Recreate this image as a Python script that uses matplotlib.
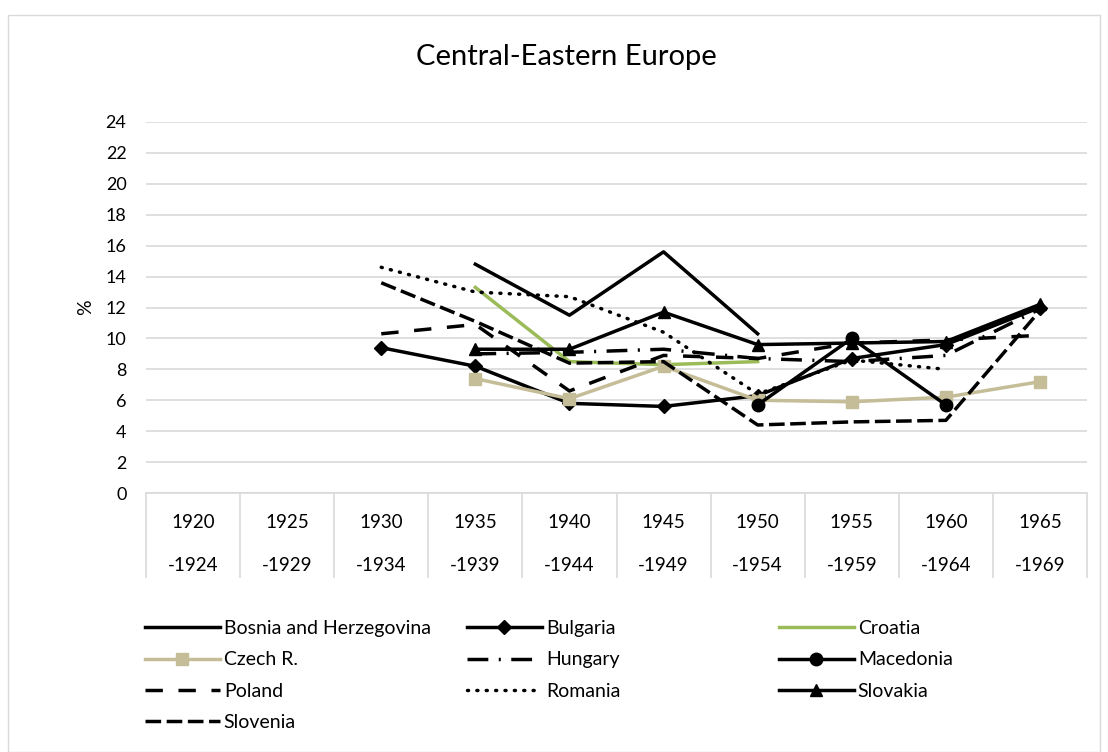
import numpy as np
import matplotlib
matplotlib.use("Agg")
import matplotlib.pyplot as plt
from matplotlib.patches import Rectangle

# categories (5-year periods)
period_start = ["1920", "1925", "1930", "1935", "1940", "1945", "1950", "1955", "1960", "1965"]
period_end = ["-1924", "-1929", "-1934", "-1939", "-1944", "-1949", "-1954", "-1959", "-1964", "-1969"]

nan = np.nan
# values in %, one list per country (nan = no value)
bosnia = [nan, nan, nan, 14.8, 11.5, 15.6, 10.3, nan, nan, nan]
bulgaria = [nan, nan, 9.4, 8.2, 5.8, 5.6, 6.3, 8.7, 9.6, 12.0]
croatia = [nan, nan, nan, 13.3, 8.5, 8.3, 8.5, nan, nan, nan]
czech = [nan, nan, nan, 7.4, 6.1, 8.2, 6.0, 5.9, 6.2, 7.2]
hungary = [nan, nan, nan, 9.0, 9.1, 9.3, 8.7, 8.5, 8.9, 11.9]
macedonia = [nan, nan, nan, nan, nan, nan, 5.7, 10.0, 5.7, nan]
poland = [nan, nan, 10.3, 10.9, 6.6, 8.9, 8.7, 9.7, 9.9, 10.2]
romania = [nan, nan, 14.6, 13.0, 12.7, 10.4, 6.4, 8.6, 8.0, nan]
slovakia = [nan, nan, nan, 9.3, 9.3, 11.7, 9.6, 9.7, 9.8, 12.2]
slovenia = [nan, nan, 13.6, 11.1, 8.4, 8.5, 4.4, 4.6, 4.7, 11.8]

plt.rcParams['font.family'] = ['Lato', 'DejaVu Sans']

fig = plt.figure(figsize=(11.08, 7.52), dpi=100)
fig.patches.append(Rectangle((8 / 1108, 0.0), 1092 / 1108, 1 - 15 / 752,
                             transform=fig.transFigure, fill=False,
                             edgecolor="#D9D9D9", linewidth=1))
ax = fig.add_axes([146 / 1108, 1 - 493 / 752, 941 / 1108, 371 / 752])

x = np.arange(len(period_start))
lw = 2.5
series = [
    ("Bosnia and Herzegovina", bosnia, dict(color="black", ls="-")),
    ("Bulgaria", bulgaria, dict(color="black", ls="-", marker="D", ms=7)),
    ("Croatia", croatia, dict(color="#9BBB59", ls="-")),
    ("Czech R.", czech, dict(color="#C4BD97", ls="-", marker="s", ms=8)),
    ("Hungary", hungary, dict(color="black", ls=(0, (6, 3, 0.6, 3)))),
    ("Macedonia", macedonia, dict(color="black", ls="-", marker="o", ms=9)),
    ("Poland", poland, dict(color="black", ls=(0, (5, 4.5)))),
    ("Romania", romania, dict(color="black", ls=(0, (0.3, 2.4)), dash_capstyle="round")),
    ("Slovakia", slovakia, dict(color="black", ls="-", marker="^", ms=9)),
    ("Slovenia", slovenia, dict(color="black", ls=(0, (4.5, 1.6)))),
]
handles = {}
for name, vals, style in series:
    y = np.array(vals, dtype=float)
    ok = ~np.isnan(y)
    h, = ax.plot(x[ok], y[ok], lw=lw, label=name, **style)
    handles[name] = h

ax.set_xlim(-0.5, len(x) - 0.5)
ax.set_ylim(0, 24)
ax.set_yticks(np.arange(0, 25, 2))
ax.grid(axis="y", color="#D9D9D9", linewidth=1.2)
ax.set_axisbelow(True)
for s in ["top", "right", "left"]:
    ax.spines[s].set_visible(False)
ax.spines["bottom"].set_color("#D9D9D9")
ax.spines["bottom"].set_linewidth(1.2)

ax.set_xticks(x)
ax.set_xticklabels([a + "\n" + b for a, b in zip(period_start, period_end)],
                   linespacing=2.9)
ax.set_xticks(np.arange(-0.5, len(x)), minor=True)
ax.tick_params(axis="x", which="major", length=0, pad=15, labelsize=13.5, colors="#000000")
ax.tick_params(axis="x", which="minor", length=61, width=1.2, color="#D9D9D9")
ax.tick_params(axis="y", length=0, pad=14, labelsize=13)
ax.set_ylabel("%", fontsize=14, labelpad=8)

fig.text(566 / 1108, 1 - 57 / 752, "Central-Eastern Europe", ha="center", va="center",
         fontsize=21)

# legend, three columns
cols = [
    (145, ["Bosnia and Herzegovina", "Czech R.", "Poland", "Slovenia"]),
    (467, ["Bulgaria", "Hungary", "Romania"]),
    (779, ["Croatia", "Macedonia", "Slovakia"]),
]
for xpx, names in cols:
    fig.legend([handles[n] for n in names], names, loc="upper left",
               bbox_to_anchor=(xpx / 1108, 1 - 620 / 752), frameon=False,
               fontsize=14, handlelength=3.85, handletextpad=0.2,
               borderpad=0, borderaxespad=0, labelspacing=0.74)

fig.savefig("out.png", dpi=100)
